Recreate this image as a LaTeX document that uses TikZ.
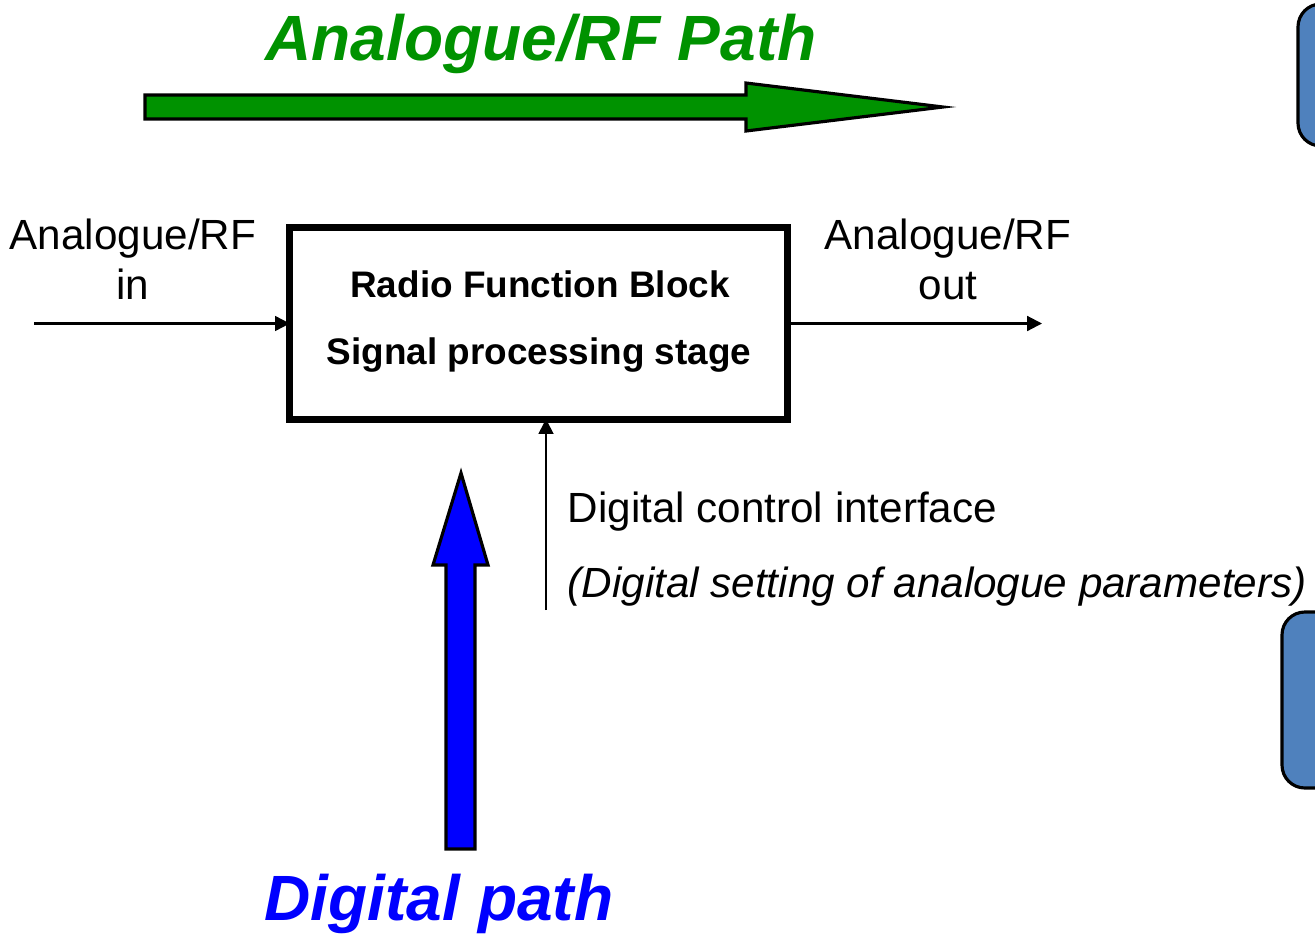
\documentclass[tikz,border=0pt]{standalone}
\usepackage{fontspec}
\setmainfont{Liberation Sans}
\usetikzlibrary{arrows.meta}
\definecolor{pathgreen}{RGB}{0,146,0}
\definecolor{pathblue}{RGB}{0,0,255}
\definecolor{boxblue}{RGB}{79,129,189}
\tikzset{
  lbl/.style={font=\fontsize{12}{14}\selectfont, inner sep=0pt, anchor=base},
  ttl/.style={font=\fontsize{18.2}{20}\selectfont\bfseries\itshape, inner sep=0pt, anchor=base},
  conn/.style={line width=0.6pt, -{Triangle[length=4.2pt,width=4.2pt]}},
  fatarrow/.style={draw=black, line width=0.9pt, line join=miter},
  sidebox/.style={draw=black, line width=0.9pt, fill=boxblue, rounded corners=6.5pt},
  blockbox/.style={draw=black, line width=2pt, minimum width=4.97cm, minimum height=1.91cm, inner sep=0pt, outer sep=0pt},
}
\begin{document}
\begin{tikzpicture}[x=0.01cm,y=-0.01cm]
\useasboundingbox (0,0) rectangle (1315,933);
\clip (0,0) rectangle (1315,933);
% side boxes (partially visible)
\draw[sidebox] (1298,4) rectangle (1360,146);
\draw[sidebox] (1282,612) rectangle (1360,788);
% green analogue path arrow
\draw[fatarrow, fill=pathgreen] (145,95) -- (746,95) -- (746,83) -- (943,107) -- (746,131) -- (746,119) -- (145,119) -- cycle;
\node[ttl, text=pathgreen] (ttlA) at (541,60) {Analogue/RF Path};
% blue digital path arrow
\draw[fatarrow, fill=pathblue] (446,849) -- (446,565) -- (433,565) -- (461,473) -- (488,565) -- (475,565) -- (475,849) -- cycle;
\node[ttl, text=pathblue] (ttlD) at (439,920) {Digital path};
% main block
\node[blockbox] (blk) at (538.5,323.5) {};
\node[lbl, font=\fontsize{10.5}{12}\selectfont\bfseries] (t1) at (540,297) {Radio Function Block};
\node[lbl, font=\fontsize{10.5}{12}\selectfont\bfseries] (t2) at (539,364) {Signal processing stage};
% input / output
\coordinate (inS) at (34,323.5);
\coordinate (outE) at (1042,323.5);
\coordinate (ctlS) at (546,610);
\draw[conn] (inS) -- (blk.west);
\draw[conn] (blk.east) -- (outE);
\draw[conn] (ctlS) -- (ctlS |- blk.south);
\node[lbl] (inA) at (133,249) {Analogue/RF};
\node[lbl] (inB) at (133,299) {in};
\node[lbl] (outA) at (948,249) {Analogue/RF};
\node[lbl] (outB) at (948,299) {out};
\node[lbl, anchor=base west] (c1) at (567,522) {Digital control interface};
\node[lbl, anchor=base west, font=\fontsize{12}{14}\selectfont\itshape] (c2) at (567,597) {(Digital setting of analogue parameters)};
\end{tikzpicture}
\end{document}
